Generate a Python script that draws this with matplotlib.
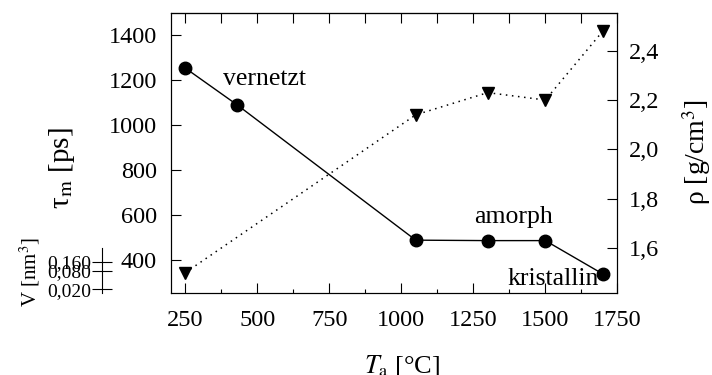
import matplotlib
matplotlib.use('Agg')
import matplotlib.pyplot as plt
from matplotlib.ticker import FixedLocator, NullLocator

# Data
temps_tau = [250, 430, 1050, 1300, 1500, 1700]
tau_m = [1254, 1090, 487, 485, 485, 336]

temps_rho = [250, 1050, 1300, 1500, 1700]
rho = [1.50, 2.14, 2.23, 2.20, 2.48]

x_ticks = [250, 500, 750, 1000, 1250, 1500, 1750]
tau_ticks = [400, 600, 800, 1000, 1200, 1400]
rho_ticks = [1.6, 1.8, 2.0, 2.2, 2.4]
rho_tick_labels = ['1,6', '1,8', '2,0', '2,2', '2,4']
v_ticks = [0.02, 0.08, 0.16]
v_tick_labels = ['0,020', '0,080', '0,160']

# phase labels (x, y in tau units)
phase_names = ['vernetzt', 'amorph', 'kristallin']
phase_x = [526, 1388, 1528]
phase_y = [1180, 565, 285]

plt.rcParams['font.family'] = ['Liberation Serif', 'DejaVu Serif']
plt.rcParams['mathtext.fontset'] = 'stix'

W, H = 712, 375
fig = plt.figure(figsize=(W / 100, H / 100), dpi=100)
ax = fig.add_axes([171 / W, 1 - 293.3 / H, (617.3 - 171) / W, (293.3 - 13) / H])

# tau_m series (left axis)
ax.plot(temps_tau, tau_m, color='black', lw=1.0, marker='o', ms=9, zorder=3)
ax.set_xlim(200, 1750)
ax.set_ylim(250, 1500)
ax.set_xticks(x_ticks)
ax.xaxis.set_minor_locator(FixedLocator([t + 125 for t in x_ticks[:-1]]))
ax.set_yticks(tau_ticks)
ax.tick_params(axis='both', which='major', direction='in', length=7, width=0.8,
               labelsize=17.5, pad=10)
ax.tick_params(axis='x', which='minor', direction='in', length=3, width=0.8)
ax.tick_params(axis='x', pad=12)

for name, xx, yy in zip(phase_names, phase_x, phase_y):
    ax.text(xx, yy, name, fontsize=18.5, ha='center', va='baseline', zorder=4)

# top ticks every 125
top = ax.secondary_xaxis('top')
top.set_xticks([t for t in range(250, 1751, 125)])
top.tick_params(direction='in', length=7, width=0.8, labeltop=False)

# rho series (right axis)
ax2 = ax.twinx()
ax2.plot(temps_rho, rho, color='black', lw=1.1, ls=(0, (1, 3)), marker='v', ms=9,
         zorder=3)
ax2.set_ylim(1.416, 2.553)
ax2.set_yticks(rho_ticks)
ax2.set_yticklabels(rho_tick_labels)
ax2.tick_params(axis='y', direction='in', length=7.5, width=0.8, labelsize=17.5, pad=8)

for a in (ax, ax2):
    for s in a.spines.values():
        s.set_linewidth(0.8)

# small V axis on the left
axv = fig.add_axes([102 / W, 1 - 293.3 / H, 0.001, (293.3 - 248) / H])
axv.set_yscale('log')
axv.set_ylim(0.0149, 0.45)
axv.yaxis.set_major_locator(FixedLocator(v_ticks))
axv.yaxis.set_minor_locator(NullLocator())
axv.set_yticklabels(v_tick_labels)
axv.set_xticks([])
axv.patch.set_visible(False)
for k in ('top', 'right', 'bottom'):
    axv.spines[k].set_visible(False)
axv.spines['left'].set_linewidth(0.8)
axv.tick_params(axis='y', direction='inout', length=14, width=0.8, labelsize=14,
                pad=1)

# axis labels
fig.text(62 / W, 1 - 168 / H, r'τ$_{\rm m}$ [ps]', rotation=90, fontsize=21,
         ha='center', va='center')
fig.text(697 / W, 1 - 152 / H, r'ρ [g/cm$^{\rm 3}$]', rotation=90, fontsize=20,
         ha='center', va='center')
fig.text(402 / W, 2 / H, r'$T_{\rm a}$ [°C]', fontsize=19, ha='center',
         va='baseline')
fig.text(30 / W, 1 - 272 / H, r'V [nm$^{\rm 3}$]', rotation=90, fontsize=15,
         ha='center', va='center')

fig.savefig('out.png', dpi=100)
